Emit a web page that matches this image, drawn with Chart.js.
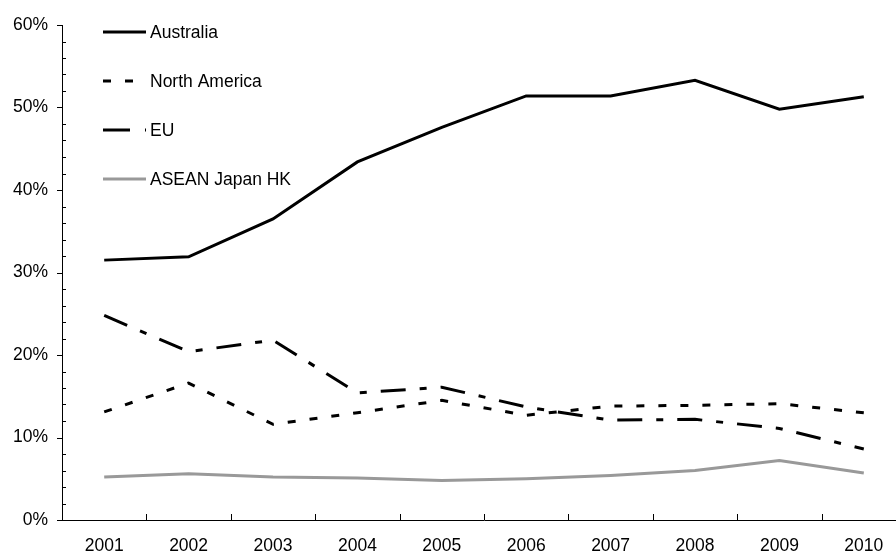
<!DOCTYPE html>
<html>
<head>
<meta charset="utf-8">
<script src="https://cdn.jsdelivr.net/npm/chart.js@4.4.0/dist/chart.umd.min.js"></script>
<style>
  body { margin: 0; background: #fff; overflow: hidden; }
  #wrap { width: 896px; height: 553px; overflow: hidden; }
</style>
</head>
<body>
<div id="wrap"><canvas id="shareChart" width="910" height="553"></canvas></div>
<script>
// data (share, %)
const years = ['2001', '2002', '2003', '2004', '2005', '2006', '2007', '2008', '2009', '2010'];
const australia = [31.5, 31.9, 36.5, 43.4, 47.6, 51.4, 51.4, 53.3, 49.8, 51.3];
const northAmerica = [13.1, 16.6, 11.6, 13.0, 14.5, 12.7, 13.8, 13.9, 14.1, 13.0];
const eu = [24.8, 20.4, 21.8, 15.4, 16.1, 13.7, 12.1, 12.2, 11.1, 8.6];
const aseanJapanHK = [5.2, 5.6, 5.2, 5.1, 4.8, 5.0, 5.4, 6.0, 7.2, 5.7];
const yTicks = [0, 10, 20, 30, 40, 50, 60];
const yMinorStep = 2;

const fontFamily = '"Liberation Sans", Arial, sans-serif';
const fontSize = 17.5;

const series = [
  { label: 'Australia', data: australia, color: '#000', dash: [] },
  { label: 'North America', data: northAmerica, color: '#000', dash: [8, 14] },
  { label: 'EU', data: eu, color: '#000', dash: [25, 14, 7, 14] },
  { label: 'ASEAN Japan HK', data: aseanJapanHK, color: '#999', dash: [] }
];

// tick marks: major ticks outside on y, minor inside; x ticks between years, pointing up
const axisTicks = {
  id: 'axisTicks',
  afterDraw(chart) {
    const ctx = chart.ctx;
    const xs = chart.scales.x, ys = chart.scales.y;
    const area = chart.chartArea;
    ctx.save();
    ctx.strokeStyle = '#000';
    ctx.lineWidth = 1;
    ctx.beginPath();
    for (let v = yTicks[0]; v <= yTicks[yTicks.length - 1]; v += yMinorStep) {
      const py = Math.round(ys.getPixelForValue(v)) + 0.5;
      if (yTicks.includes(v)) {
        ctx.moveTo(area.left - 5, py);
        ctx.lineTo(area.left, py);
      } else {
        ctx.moveTo(area.left, py);
        ctx.lineTo(area.left + 4, py);
      }
    }
    for (let i = 0; i < years.length - 1; i++) {
      const px = Math.round((xs.getPixelForValue(i) + xs.getPixelForValue(i + 1)) / 2) + 0.5;
      ctx.moveTo(px, area.bottom);
      ctx.lineTo(px, area.bottom - 6);
    }
    ctx.stroke();
    ctx.restore();
  }
};

// legend sits inside the plot, top left, one item per row
const insideLegend = {
  id: 'insideLegend',
  afterDraw(chart) {
    const ctx = chart.ctx;
    const area = chart.chartArea;
    const x0 = area.left + 41;
    const lineLen = 43;
    ctx.save();
    ctx.font = fontSize + 'px ' + fontFamily;
    ctx.textBaseline = 'middle';
    ctx.fillStyle = '#000';
    series.forEach((s, i) => {
      const y = area.top + 7 + i * 49;
      ctx.strokeStyle = s.color;
      ctx.lineWidth = 3;
      // EU sample in the original starts with a longer dash
      ctx.setLineDash(s.label === 'EU' ? [27, 15, 2, 20] : s.dash);
      ctx.beginPath();
      ctx.moveTo(x0, y);
      ctx.lineTo(x0 + lineLen, y);
      ctx.stroke();
      ctx.fillText(s.label, x0 + lineLen + 4, y + 1);
    });
    ctx.restore();
  }
};

const ctx = document.getElementById('shareChart').getContext('2d');
new Chart(ctx, {
  type: 'line',
  data: {
    labels: years,
    datasets: series.map(s => ({
      label: s.label,
      data: s.data,
      borderColor: s.color,
      borderWidth: 3,
      borderDash: s.dash,
      borderCapStyle: 'butt',
      fill: false,
      tension: 0,
      pointRadius: 0
    }))
  },
  options: {
    responsive: false,
    animation: false,
    layout: { padding: { top: 25, right: 4, left: 0, bottom: 0 } },
    plugins: {
      legend: { display: false },
      tooltip: { enabled: false }
    },
    scales: {
      x: {
        offset: true,
        grid: { display: false, drawTicks: false },
        border: { display: true, color: '#000', width: 1 },
        ticks: {
          color: '#000',
          font: { family: fontFamily, size: fontSize },
          padding: 16,
          maxRotation: 0,
          autoSkip: false
        },
        afterFit: (scale) => { scale.height = 33; }
      },
      y: {
        min: 0,
        max: 60,
        grid: { display: false, drawTicks: false },
        border: { display: true, color: '#000', width: 1 },
        ticks: {
          stepSize: 10,
          color: '#000',
          font: { family: fontFamily, size: fontSize },
          padding: 14,
          callback: (v) => v + '%'
        },
        afterFit: (scale) => { scale.width = 62; }
      }
    }
  },
  plugins: [axisTicks, insideLegend]
});
</script>
</body>
</html>
